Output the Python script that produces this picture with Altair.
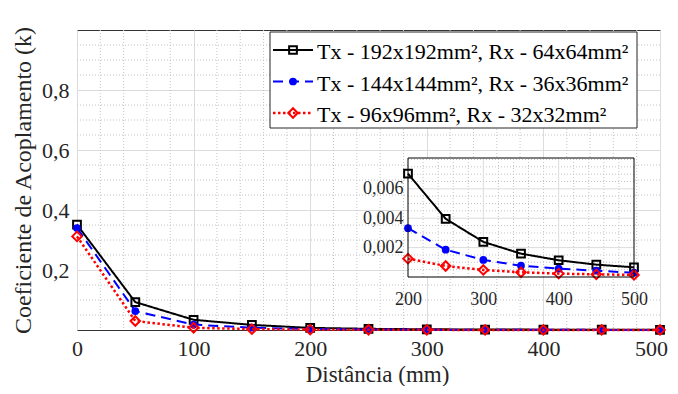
import altair as alt
import pandas as pd

# ---------------- data ----------------
DIST = [0, 50, 100, 150, 200, 250, 300, 350, 400, 450, 500]
K_192 = [0.351, 0.093, 0.034, 0.017, 0.00703, 0.00396, 0.00239, 0.00159, 0.00114, 0.00084, 0.00066]
K_144 = [0.340, 0.063, 0.018, 0.0075, 0.00332, 0.00186, 0.00116, 0.00077, 0.00057, 0.00043, 0.00029]
K_96 = [0.312, 0.030, 0.0075, 0.0028, 0.00125, 0.00075, 0.00048, 0.00032, 0.00023, 0.00018, 0.00014]
SERIES = [
    "Tx - 192x192mm², Rx - 64x64mm²",
    "Tx - 144x144mm², Rx - 36x36mm²",
    "Tx - 96x96mm², Rx - 32x32mm²",
]
VALUES = [K_192, K_144, K_96]

X_TICKS = [0, 100, 200, 300, 400, 500]
Y_TICKS = [0.2, 0.4, 0.6, 0.8]
X_MINOR = [20, 40, 60, 80, 120, 140, 160, 180, 220, 240, 260, 280, 320, 340, 360, 380, 420, 440, 460, 480]
Y_MINOR = [0.05, 0.1, 0.15, 0.25, 0.3, 0.35, 0.45, 0.5, 0.55, 0.65, 0.7, 0.75, 0.85, 0.9, 0.95]

INSET_X = [200, 500]
INSET_Y = [0.0, 0.0081]
INSET_X_TICKS = [200, 300, 400, 500]
INSET_Y_TICKS = [0.002, 0.004, 0.006]
INSET_X_MINOR = [220, 240, 260, 280, 320, 340, 360, 380, 420, 440, 460, 480]
INSET_Y_MINOR = [0.0005, 0.001, 0.0015, 0.0025, 0.003, 0.0035, 0.0045, 0.005, 0.0055, 0.0065, 0.007, 0.0075, 0.008]

# ---------------- styles ----------------
COLORS = ["#000000", "#0000ff", "#ff0000"]
SHAPES = ["square", "circle", "diamond"]
FILLED = [False, True, False]
SIZES = [60, 60, 90]
DASHES = [[1, 0], [10, 6], [2.5, 2.5]]
WIDTHS = [2, 2, 2.5]
FONT = "Liberation Serif"
TXT = "#262626"
GRID = "#dcdcdc"
MINOR = "#c4c4c4"

W, H = 583, 300
INSET_RX = [331, 557]
INSET_RY = [247, 128]

rows = []
for s, vals in zip(SERIES, VALUES):
    for d, v in zip(DIST, vals):
        rows.append({"dist": d, "k": v, "series": s})
df = pd.DataFrame(rows)

# ---------------- main panel ----------------
mx = alt.Scale(domain=[0, 500], nice=False, zero=False)
my = alt.Scale(domain=[0, 1], nice=False, zero=False)
mx_axis = alt.Axis(values=X_TICKS, grid=True, gridColor=GRID, gridWidth=1, ticks=False, tickSize=0,
                   domain=False, labelFontSize=22, labelPadding=8, labelFlush=False,
                   labelOffset={"condition": {"test": "datum.value == 500", "value": -9}, "value": 0},
                   title="Distância (mm)",
                   titleFontSize=23, titleFontWeight="normal", titleX=300, titleY=51,
                   titleBaseline="alphabetic", orient="bottom")
my_axis = alt.Axis(values=Y_TICKS, grid=True, gridColor=GRID, gridWidth=1, ticks=False, tickSize=0,
                   domain=False, labelFontSize=22, labelPadding=8, format=".1f", labelFlush=False,
                   labelExpr="replace(datum.label, '.', ',')",
                   title="Coeficiente de Acoplamento (k)", titleFontSize=24, titleFontWeight="normal",
                   titleX=-54, titleY=150, titleAngle=-90, titleBaseline="middle", orient="left")

gx = alt.Chart(pd.DataFrame({"v": X_MINOR})).mark_rule(
    color=MINOR, strokeDash=[1, 2], strokeWidth=1
).encode(x=alt.X("v:Q", scale=mx, axis=mx_axis), y=alt.value(0), y2=alt.value(H))
gy = alt.Chart(pd.DataFrame({"v": Y_MINOR})).mark_rule(
    color=MINOR, strokeDash=[1, 2], strokeWidth=1
).encode(y=alt.Y("v:Q", scale=my, axis=my_axis), x=alt.value(0), x2=alt.value(W))

main_layers = [gx, gy]
for i, s in enumerate(SERIES):
    base = alt.Chart(df).transform_filter(alt.datum.series == s)
    enc = dict(x=alt.X("dist:Q", scale=mx, axis=mx_axis), y=alt.Y("k:Q", scale=my, axis=my_axis))
    main_layers.append(base.mark_line(color=COLORS[i], strokeWidth=WIDTHS[i], strokeDash=DASHES[i]).encode(**enc))
    main_layers.append(base.mark_point(shape=SHAPES[i], size=SIZES[i], filled=FILLED[i], color=COLORS[i],
                                       strokeWidth=2, opacity=1).encode(**enc))
main = alt.layer(*main_layers)

# ---------------- inset panel ----------------
ix = alt.Scale(domain=INSET_X, range=INSET_RX, nice=False, zero=False)
iy = alt.Scale(domain=INSET_Y, range=INSET_RY, nice=False, zero=False)
ix_axis = alt.Axis(values=INSET_X_TICKS, grid=False, ticks=False, tickSize=0, domain=False,
                   labelFontSize=18, labelPadding=13, labelFlush=False, title=None, orient="bottom",
                   offset=INSET_RY[0] - H)
iy_axis = alt.Axis(values=INSET_Y_TICKS, grid=False, ticks=False, tickSize=0, domain=False,
                   labelFontSize=18, labelPadding=5, format=".3f", labelFlush=False,
                   labelExpr="replace(datum.label, '.', ',')", title=None, orient="left",
                   offset=-INSET_RX[0])

frame_df = pd.DataFrame({"x0": [INSET_X[0]], "x1": [INSET_X[1]], "y0": [INSET_Y[0]], "y1": [INSET_Y[1]]})
bg = alt.Chart(frame_df).mark_rect(fill="white").encode(
    x=alt.X("x0:Q", scale=ix, axis=ix_axis), x2="x1", y=alt.Y("y0:Q", scale=iy, axis=iy_axis), y2="y1")
frame = alt.Chart(frame_df).mark_rect(fill=None, stroke="#000000", strokeWidth=1).encode(
    x=alt.X("x0:Q", scale=ix, axis=ix_axis), x2="x1", y=alt.Y("y0:Q", scale=iy, axis=iy_axis), y2="y1")


def vgrid(vals, color, dash):
    d = pd.DataFrame({"v": vals, "lo": INSET_Y[0], "hi": INSET_Y[1]})
    return alt.Chart(d).mark_rule(color=color, strokeDash=dash, strokeWidth=1).encode(
        x=alt.X("v:Q", scale=ix, axis=ix_axis), y=alt.Y("lo:Q", scale=iy, axis=iy_axis), y2="hi")


def hgrid(vals, color, dash):
    d = pd.DataFrame({"v": vals, "lo": INSET_X[0], "hi": INSET_X[1]})
    return alt.Chart(d).mark_rule(color=color, strokeDash=dash, strokeWidth=1).encode(
        y=alt.Y("v:Q", scale=iy, axis=iy_axis), x=alt.X("lo:Q", scale=ix, axis=ix_axis), x2="hi")


inset_layers = [bg,
                vgrid(INSET_X_MINOR, MINOR, [1, 2]), hgrid(INSET_Y_MINOR, MINOR, [1, 2]),
                vgrid([300, 400], GRID, [1, 0]), hgrid(INSET_Y_TICKS, GRID, [1, 0])]
for i, s in enumerate(SERIES):
    base = alt.Chart(df).transform_filter((alt.datum.series == s) & (alt.datum.dist >= INSET_X[0]))
    enc = dict(x=alt.X("dist:Q", scale=ix, axis=ix_axis), y=alt.Y("k:Q", scale=iy, axis=iy_axis))
    inset_layers.append(base.mark_line(color=COLORS[i], strokeWidth=WIDTHS[i], strokeDash=DASHES[i]).encode(**enc))
    inset_layers.append(base.mark_point(shape=SHAPES[i], size=SIZES[i], filled=FILLED[i], color=COLORS[i],
                                        strokeWidth=2, opacity=1).encode(**enc))
inset_layers.append(frame)
inset = alt.layer(*inset_layers)

# ---------------- legend box ----------------
ly = alt.Scale(type="point", domain=SERIES, range=[20, 83], padding=0)
leg_df = pd.DataFrame({"series": SERIES})
box = alt.Chart(pd.DataFrame({"a": [0]})).mark_rect(fill="white", stroke=TXT, strokeWidth=1).encode(
    x=alt.value(193), x2=alt.value(560), y=alt.value(2), y2=alt.value(98))
leg_layers = [box]
for i, s in enumerate(SERIES):
    base = alt.Chart(leg_df).transform_filter(alt.datum.series == s)
    yy = alt.Y("series:N", scale=ly, axis=None)
    leg_layers.append(base.mark_rule(color=COLORS[i], strokeWidth=WIDTHS[i], strokeDash=DASHES[i]).encode(
        x=alt.value(196), x2=alt.value(236), y=yy))
    leg_layers.append(base.mark_point(shape=SHAPES[i], size=SIZES[i], filled=FILLED[i], color=COLORS[i],
                                      strokeWidth=2, opacity=1).encode(x=alt.value(216), y=yy))
leg_layers.append(alt.Chart(leg_df).mark_text(align="left", baseline="middle", font=FONT, fontSize=22,
                                              color="#000000", dy=2).encode(
    x=alt.value(240), y=alt.Y("series:N", scale=ly, axis=None), text="series:N"))
legend = alt.layer(*leg_layers)

chart = alt.layer(main, inset, legend).resolve_scale(
    x="independent", y="independent"
).properties(
    width=W, height=H,
    autosize=alt.AutoSizeParams(type="none"),
    padding={"left": 69, "top": 22, "right": 8, "bottom": 56},
).configure_view(
    stroke="#333333", strokeWidth=1
).configure_axis(
    labelFont=FONT, titleFont=FONT, labelColor=TXT, titleColor=TXT
)

chart.save("out.html", embed_options={"renderer": "svg", "actions": False})
